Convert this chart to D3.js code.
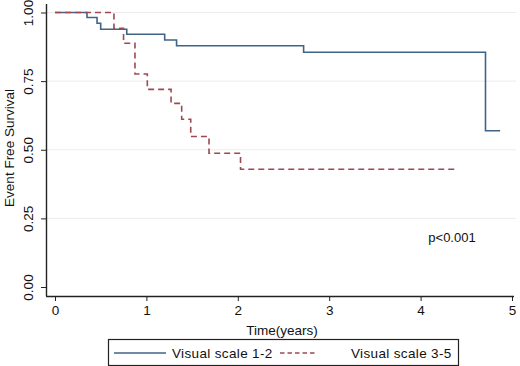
<!DOCTYPE html>
<html>
<head>
<meta charset="utf-8">
<script src="https://cdn.jsdelivr.net/npm/d3@7"></script>
<style>
  body { margin: 0; background: #fff; }
  text { font-family: "Liberation Sans", Arial, sans-serif; fill: #111; }
</style>
</head>
<body>
<div class="box"></div>
<script>
// DATA

// visual scale 1-2 : step times and survival after each step
const lowTimes = [0, 0.35, 0.46, 0.50, 0.785, 1.20, 1.33, 2.72, 4.71, 4.87];
const lowSurv  = [1, 0.982, 0.961, 0.939, 0.921, 0.900, 0.879, 0.855, 0.569, 0.569];

// visual scale 3-5
const highTimes = [0, 0.645, 0.75, 0.875, 1.01, 1.27, 1.386, 1.485, 1.685, 2.03, 4.38];
const highSurv  = [1, 0.942, 0.888, 0.776, 0.72, 0.669, 0.611, 0.548, 0.487, 0.429, 0.429];

const xTicks = [0, 1, 2, 3, 4, 5];
const yTicks = [0, 0.25, 0.5, 0.75, 1];
const legendLabels = ['Visual scale 1-2', 'Visual scale 3-5'];

// SETUP
const width = 520, height = 366;

const svg = d3.select('.box')
              .append('svg')
              .attr('width', width)
              .attr('height', height)
              .style('background', '#fff');

const x = d3.scaleLinear().domain([0, 5]).range([55, 512]);
const y = d3.scaleLinear().domain([0, 1]).range([287, 12.5]);

const axisX = 46;   // y axis line position
const axisY = 296;  // x axis line position

// grid lines
svg.append('g')
   .selectAll('line')
   .data(yTicks.filter(d => d > 0))
   .enter()
   .append('line')
   .attr('x1', axisX + 1)
   .attr('x2', 516)
   .attr('y1', d => y(d))
   .attr('y2', d => y(d))
   .attr('stroke', '#ececec')
   .attr('stroke-width', 1);

// axes
const gx = svg.append('g')
              .attr('transform', `translate(0, ${axisY})`)
              .call(d3.axisBottom(x).tickValues(xTicks).tickFormat(d3.format('d')).tickSize(5).tickSizeOuter(0));
gx.select('.domain').attr('d', `M${axisX},0.5H514`).attr('stroke', '#222').attr('stroke-width', 1.4);
gx.selectAll('.tick line').attr('stroke', '#222');
gx.selectAll('.tick text')
  .attr('y', 9)
  .style('font-size', '13.5px')
  .style('font-family', '"Liberation Sans", Arial, sans-serif')
  .attr('fill', '#111');

const gy = svg.append('g')
              .attr('transform', `translate(${axisX}, 0)`)
              .call(d3.axisLeft(y).tickValues(yTicks).tickFormat(d3.format('.2f')).tickSize(5).tickSizeOuter(0));
gy.select('.domain').attr('d', `M0.5,4V${axisY}`).attr('stroke', '#222').attr('stroke-width', 1.4);
gy.selectAll('.tick line').attr('stroke', '#222');
gy.selectAll('.tick text')
  .attr('x', 0)
  .attr('y', 0)
  .attr('dy', null)
  .attr('transform', 'translate(-18,0) rotate(-90)')
  .style('text-anchor', 'middle')
  .attr('dominant-baseline', 'central')
  .style('font-size', '13.5px')
  .style('font-family', '"Liberation Sans", Arial, sans-serif')
  .attr('fill', '#111');

// axis titles
svg.append('text')
   .text('Time(years)')
   .attr('x', 282)
   .attr('y', 335)
   .style('text-anchor', 'middle')
   .style('font-size', '13.5px');

svg.append('text')
   .text('Event Free Survival')
   .attr('transform', 'translate(14, 148) rotate(-90)')
   .style('text-anchor', 'middle')
   .style('font-size', '13.5px');

// survival curves
const line = d3.line()
               .x(d => x(d[0]))
               .y(d => y(d[1]))
               .curve(d3.curveStepAfter);

const lowData = lowTimes.map((t, i) => [t, lowSurv[i]]);
const highData = highTimes.map((t, i) => [t, highSurv[i]]);

const blue = '#3f6487';
const red = '#a04852';

svg.append('path')
   .datum(lowData)
   .attr('d', line)
   .attr('fill', 'none')
   .attr('stroke', blue)
   .attr('stroke-width', 1.6);

svg.append('path')
   .datum(highData)
   .attr('d', line)
   .attr('fill', 'none')
   .attr('stroke', red)
   .attr('stroke-width', 1.6)
   .attr('stroke-dasharray', '6,4');

// p value
svg.append('text')
   .text('p<0.001')
   .attr('x', 452)
   .attr('y', 242)
   .style('text-anchor', 'middle')
   .style('font-size', '13px');

// legend
const legend = svg.append('g');
legend.append('rect')
      .attr('x', 108.5)
      .attr('y', 339.5)
      .attr('width', 350)
      .attr('height', 26)
      .attr('fill', '#fff')
      .attr('stroke', '#222')
      .attr('stroke-width', 1.2);

const legendItems = [
  {label: legendLabels[0], color: blue, dash: null, x1: 114, x2: 166, tx: 172},
  {label: legendLabels[1], color: red, dash: '4.5,3', x1: 280, x2: 316, tx: 351}
];

legendItems.forEach(item => {
  legend.append('line')
        .attr('x1', item.x1)
        .attr('x2', item.x2)
        .attr('y1', 353)
        .attr('y2', 353)
        .attr('stroke', item.color)
        .attr('stroke-width', 1.4)
        .attr('stroke-dasharray', item.dash);
  legend.append('text')
        .text(item.label)
        .attr('x', item.tx)
        .attr('y', 358)
        .style('letter-spacing', '0.35px')
        .style('font-size', '13.5px');
});
</script>
</body>
</html>
